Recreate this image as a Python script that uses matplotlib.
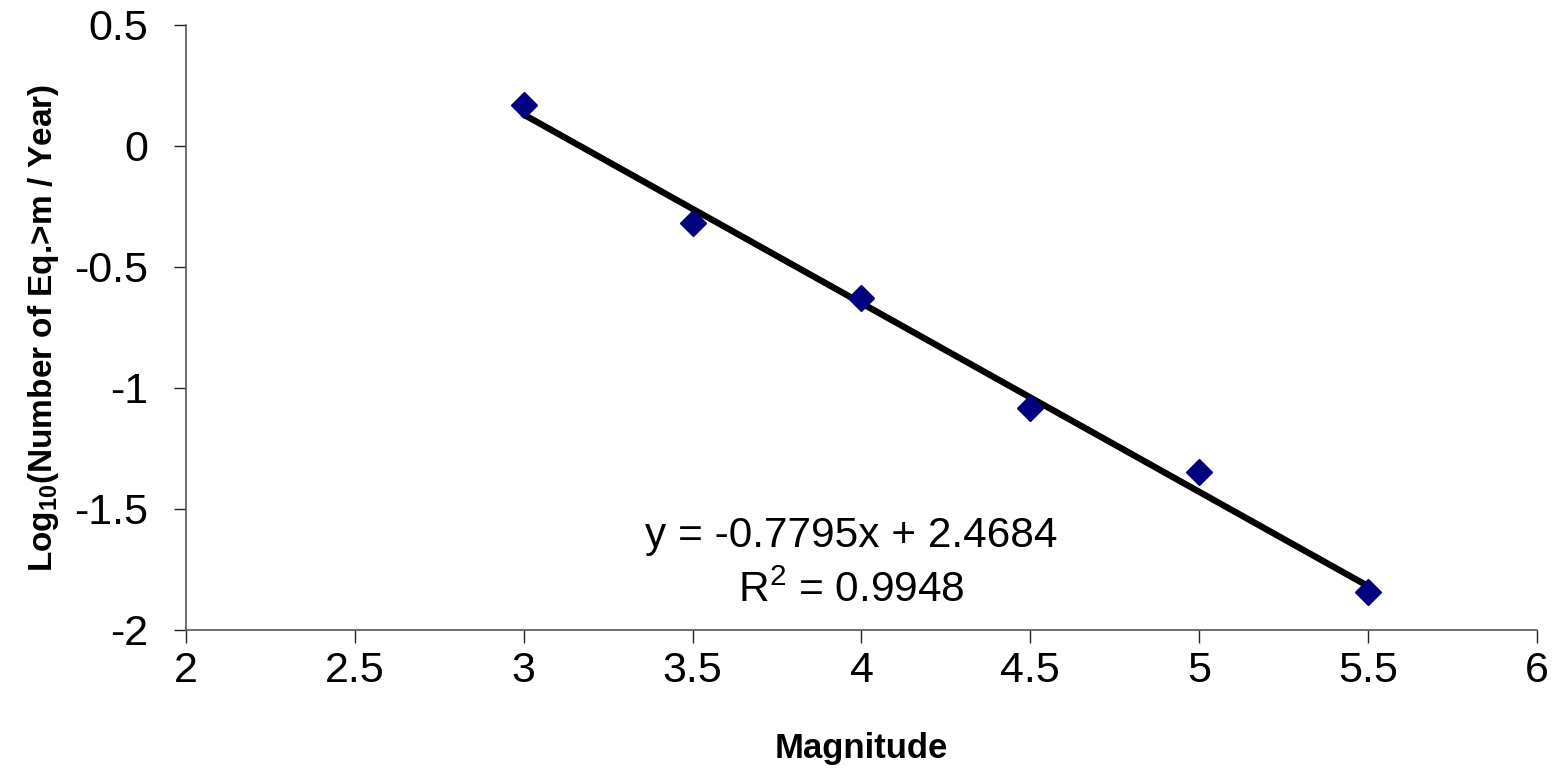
import numpy as np
import matplotlib
matplotlib.use("Agg")
import matplotlib.pyplot as plt

plt.rcParams["font.family"] = ["Liberation Sans", "DejaVu Sans"]
plt.rcParams["mathtext.fontset"] = "custom"
plt.rcParams["mathtext.rm"] = "Liberation Sans"
plt.rcParams["mathtext.it"] = "Liberation Sans:italic"
plt.rcParams["mathtext.bf"] = "Liberation Sans:bold"

# data
magnitude = [3.0, 3.5, 4.0, 4.5, 5.0, 5.5]
log_rate = [0.169, -0.318, -0.628, -1.083, -1.347, -1.842]
slope, intercept = -0.7795, 2.4684
x_ticks = [2, 2.5, 3, 3.5, 4, 4.5, 5, 5.5, 6]
x_labels = ["2", "2.5", "3", "3.5", "4", "4.5", "5", "5.5", "6"]
y_ticks = [-2, -1.5, -1, -0.5, 0, 0.5]
y_labels = ["-2", "-1.5", "-1", "-0.5", "0", "0.5"]

fig = plt.figure(figsize=(15.54, 7.69), dpi=100)
ax = fig.add_axes([0.1197, 0.1808, 0.8693, 0.7867])

fit_x = np.array([magnitude[0], magnitude[-1]])
ax.plot(fit_x, slope * fit_x + intercept, color="black", lw=4.6,
        solid_capstyle="round", zorder=2)
ax.plot(magnitude, log_rate, linestyle="none", marker="D", ms=13.5,
        color="#000080", zorder=3)

ax.set_xlim(2, 6)
ax.set_ylim(-2, 0.5)
ax.set_xticks(x_ticks)
ax.set_xticklabels(x_labels)
ax.set_yticks(y_ticks)
ax.set_yticklabels(y_labels)

for side in ("top", "right"):
    ax.spines[side].set_visible(False)
for side in ("left", "bottom"):
    ax.spines[side].set_color("#555555")
    ax.spines[side].set_linewidth(1.2)

ax.tick_params(axis="both", direction="out", length=9, width=1,
               color="#222222", labelsize=31)
ax.tick_params(axis="y", pad=18)
ax.tick_params(axis="x", pad=6)

ax.set_xlabel("Magnitude", fontsize=25, fontweight="bold", labelpad=30)
ax.set_ylabel(r"Log$_{\mathbf{10}}$(Number of Eq.>m / Year)", fontsize=24,
              fontweight="bold", labelpad=10)

ax.text(3.97, -1.611, "y = -0.7795x + 2.4684", fontsize=30.5,
        ha="center", va="center")
ax.text(3.97, -1.839, r"R$^2$ = 0.9948", fontsize=30.5,
        ha="center", va="center")

fig.savefig("out.png", dpi=100, facecolor="white")
